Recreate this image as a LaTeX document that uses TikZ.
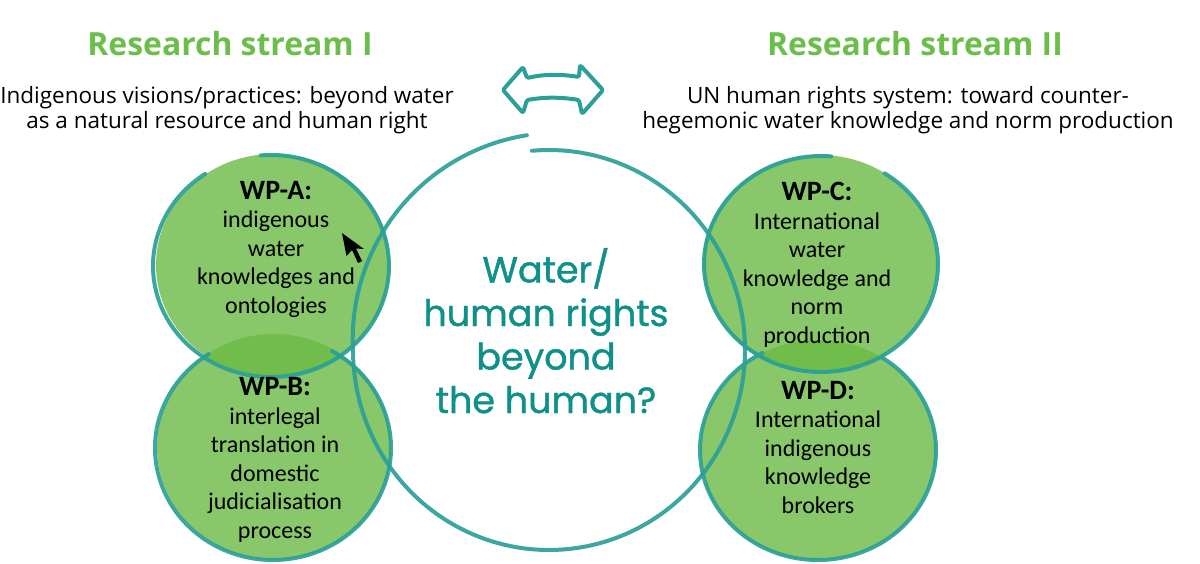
\documentclass[tikz,border=0pt]{standalone}
\usepackage{fontspec}
\setmainfont{Carlito}
\newfontfamily\osans{Open Sans}
\newfontfamily\ctrfont{Poppins}[FakeBold=1.2]
\definecolor{titlegreen}{HTML}{6CBE4B}
\definecolor{circfill}{HTML}{6ABA45}
\definecolor{tealline}{HTML}{2BA098}
\definecolor{tealtext}{HTML}{0F9088}
\newcommand{\wphead}[1]{{\bfseries\fontsize{28}{28.5}\selectfont #1}}
\begin{document}
\begin{tikzpicture}[x=1pt,y=-1pt,
  gfill/.style={fill=circfill,fill opacity=0.8},
  tline/.style={draw=tealline,line width=4pt,line cap=round,draw opacity=0.92},
  title/.style={font=\osans\bfseries\fontsize{31.9}{37}\selectfont,text=titlegreen,inner sep=0pt,anchor=base},
  subtitle/.style={font=\osans\fontsize{22.5}{25}\selectfont,align=center,inner sep=0pt,anchor=base},
  wptext/.style={font=\fontsize{24}{28.5}\selectfont,align=center,inner sep=0pt,anchor=base},
  ctrtext/.style={font=\ctrfont\fontsize{36.5}{43.5}\selectfont,text=tealtext,align=center,inner sep=0pt,anchor=base}]
\useasboundingbox (0,0) rectangle (1200,563);
% green fills
\fill[gfill] (273,265) ellipse [x radius=117, y radius=111];
\fill[gfill] (274,447) ellipse [x radius=117, y radius=113];
\fill[gfill] (820,264) ellipse [x radius=117, y radius=109];
\fill[gfill] (818,450) ellipse [x radius=118, y radius=110];
% teal hand-drawn circles
\draw[tline] (271,266) ++(265:118 and 111) arc[start angle=265, end angle=596, x radius=118, y radius=111];
\draw[tline] (273,448) ++(300:118 and 112) arc[start angle=300, end angle=597, x radius=118, y radius=112];
\draw[tline] (821,264) ++(303:117 and 108) arc[start angle=303, end angle=635, x radius=117, y radius=108];
\draw[tline] (818,450) ++(303:118 and 110) arc[start angle=303, end angle=602, x radius=118, y radius=110];
% big spiral circle
\draw[tline] plot[domain=265:624, samples=160, smooth, variable=\t]
  ({549+196*(1+0.08*max(0,\t-540)/84)*cos(\t)}, {350+200*(1+0.08*max(0,\t-540)/84)*sin(\t)});
% double arrow
\draw[draw=tealline,line width=4pt,line join=round,rounded corners=1.5pt]
  (503,90) -- (523,67) -- (527,78) .. controls (545,74) and (560,74) .. (579,77)
  -- (580,65) -- (603,90) -- (582,114) -- (579,100) .. controls (560,97) and (545,97) .. (527,100)
  -- (523,113) -- cycle;
% titles
\node[title] (t1) at (230,55) {Research stream I};
\node[title] (t2) at (915,55) {Research stream II};
\node[subtitle] (s1) at (227,128) {Indigenous visions/practices: beyond water\\as a natural resource and human right};
\node[subtitle] (s2) at (908,128) {UN human rights system: toward counter-\\hegemonic water knowledge and norm production};
% WP texts (anchor = baseline of last line)
\node[wptext] (wpa) at (276,313) {\wphead{WP-A:}\\indigenous\\water\\knowledges and\\ontologies};
\node[wptext] (wpb) at (275,538) {\wphead{WP-B:}\\interlegal\\translation in\\domestic\\judicialisation\\process};
\node[wptext] (wpc) at (817,343) {\wphead{WP-C:}\\International\\water\\knowledge and\\norm\\production};
\node[wptext] (wpd) at (818,513) {\wphead{WP-D:}\\International\\indigenous\\knowledge\\brokers};
\node[ctrtext] (ctr) at (546,413) {Water/\\human rights\\beyond\\the human?};
% cursor
\fill[black] (342,233) -- (346.5,256) -- (352,250) -- (358,263) -- (362,261) -- (356,248.5) -- (364,249) -- cycle;
\end{tikzpicture}
\end{document}
